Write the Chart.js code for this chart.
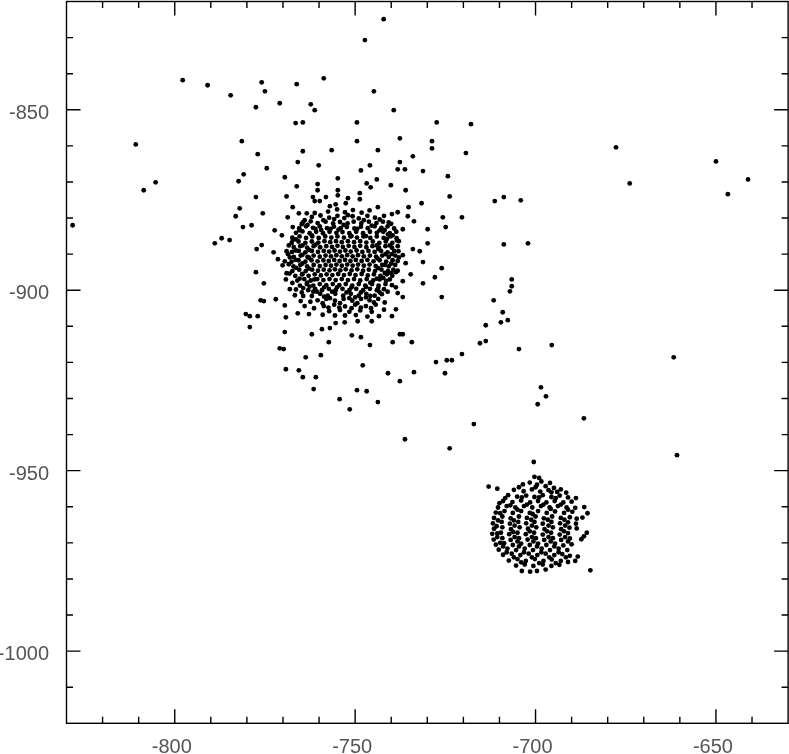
<!DOCTYPE html>
<html>
<head>
<meta charset="utf-8">
<style>html,body{margin:0;padding:0;background:#fff}canvas{display:block}</style>
<script src="https://cdn.jsdelivr.net/npm/chart.js@4"></script>
</head>
<body>
<canvas id="c" width="789" height="754"></canvas>
<script>
const scatteredPoints = [
[-742.1,-824.9],[-747.3,-830.7],[-797.8,-841.8],[-790.9,-843.2],[-784.5,-846],[-775.9,-842.4],[-775,-844.9],[-766.2,-842.9],[-758.7,-841.3],[-744.8,-844.9],
[-770.9,-848.2],[-777.5,-849.3],[-762.3,-848.5],[-761.2,-850.1],[-739.3,-850.1],[-766.5,-853.7],[-764.5,-853.5],[-749.5,-853.5],[-727.4,-853.5],[-717.9,-854],
[-810.8,-859.6],[-781.4,-858.7],[-749.5,-858.7],[-737.6,-857.9],[-728.7,-858.7],[-728.7,-860.7],[-777,-862.3],[-764.5,-861.5],[-756.5,-861.2],[-743.7,-861.2],
[-734,-862.9],[-719.3,-862],[-774.5,-866.2],[-765.9,-864.5],[-760.1,-865.4],[-745.9,-865.4],[-737.6,-864.5],[-780.9,-867.9],[-782.3,-869.8],[-769.5,-868.7],
[-748.4,-866.8],[-738.2,-866.5],[-736.2,-866.5],[-731.2,-867],[-724.3,-868.4],[-754.8,-869],[-744,-869.3],[-766.2,-871.2],[-760.4,-870.6],[-746.8,-870.4],
[-745.7,-871.5],[-740.1,-870.9],[-736,-872.3],[-777.5,-874.2],[-769,-874],[-760.4,-872.3],[-754.8,-872.3],[-748.7,-873.1],[-748.7,-874.8],[-723.8,-874],
[-761.7,-874.2],[-761.2,-875.3],[-759.8,-875.3],[-758.1,-874.2],[-754.8,-873.7],[-752,-874.5],[-731.6,-875.9],[-782,-877.3],[-767.3,-877],[-775.6,-878.7],
[-783.1,-879.5],[-768.7,-879.8],[-735.2,-877],[-743.7,-877],[-752.6,-875.9],[-755.4,-876.2],[-757,-876.7],[-765.6,-878.7],[-763.4,-878.7],[-781.1,-882.5],
[-778.7,-882],[-772.3,-883.4],[-770.3,-884.8],[-767.3,-882.5],[-764.8,-881.7],[-764,-880.6],[-787,-885.6],[-784.8,-886.1],[-788.9,-887],[-775.9,-887.5],
[-777.3,-888.6],[-772.6,-889.5],[-769,-889.2],[-771.4,-891.4],[-769.5,-892],[-770.1,-893.1],[-768.1,-890.9],[-767.3,-886.1],[-777.5,-895],[-769,-895.3],
[-769.2,-897],[-775.3,-898.1],[-768.1,-899.7],[-766.7,-901.4],[-764.8,-900.6],[-776.2,-902.8],[-775.3,-903],[-772,-902.5],[-769.5,-904.2],[-765.1,-903],
[-764,-904.4],[-780.3,-906.6],[-779.2,-907.2],[-777,-907.2],[-769.2,-907.5],[-765.9,-906.4],[-762.8,-906.6],[-779.2,-910.2],[-769.5,-911.6],[-762,-912.2],
[-759.2,-910.8],[-757,-910.5],[-755.4,-909.1],[-752.9,-908.9],[-749.3,-908.6],[-745.4,-908.6],[-750.9,-912.5],[-748.4,-913],[-745.9,-915.2],[-757.3,-914.4],
[-770.9,-916.1],[-769.8,-916.3],[-763.7,-918.6],[-759.5,-918],[-769.2,-921.9],[-765.6,-922.2],[-764.5,-924.1],[-760.9,-924.1],[-761.5,-927.4],[-747.9,-920.8],
[-740.9,-923],[-737.6,-925.2],[-733.7,-922.7],[-739.6,-914.4],[-737.6,-912.2],[-736.8,-912.2],[-734.3,-914.4],[-749.5,-927.7],[-746.8,-928],[-754.3,-930.2],
[-751.5,-933],[-743.7,-931],[-727.6,-919.9],[-724.6,-919.4],[-723.2,-919.4],[-725.1,-923],[-720.4,-917.7],[-715.4,-914.7],[-713.8,-914.1],[-713.8,-909.7],
[-709.6,-908.9],[-717.1,-937.1],[-736.2,-941.3],[-723.8,-943.8],[-739.8,-878.9],[-738.2,-878.4],[-735.4,-879.5],[-725.7,-879.8],[-720.4,-879.8],[-711.3,-875.3],
[-708.8,-874.2],[-704.1,-875.1],[-740.7,-881.2],[-733.7,-880.9],[-736.8,-883.1],[-729.9,-883.1],[-724.9,-882.5],[-740.9,-884.5],[-729.9,-887],[-708.8,-887.3],
[-702.1,-887],[-737.9,-886.4],[-738.2,-887.8],[-734,-888.6],[-732.1,-889.2],[-736.8,-890.3],[-737.9,-890.9],[-736,-892.5],[-731.2,-892.2],[-726,-893.9],
[-738.7,-895],[-734.6,-895.6],[-727.9,-896.4],[-736.8,-897.5],[-731.2,-898.1],[-706.6,-897],[-706.6,-898.9],[-707.1,-900.3],[-738.7,-899.2],[-738.2,-900.8],
[-736.8,-901.9],[-726,-901.9],[-711.6,-902.8],[-738.7,-905.3],[-739.8,-907.2],[-709.1,-906.1],[-707.7,-908.3],[-677.7,-860.4],[-673.9,-870.4],[-650,-864.3],
[-646.7,-873.4],[-641.1,-869.3],[-695.5,-915.2],[-704.6,-916.3],[-698.5,-926.9],[-697.1,-929.4],[-699.4,-931.6],[-686.6,-935.5],[-660.8,-945.7],[-661.7,-918.6],
[-828.3,-882],[-808.6,-872.3],[-805.3,-870.1]
];
const upperClusterPoints = [
[-757.5,-878.2],[-755,-877.6],[-752.8,-878.4],[-750.6,-877.8],[-748.2,-878.5],[-746,-877.9],
[-762,-879.7],[-759.6,-879.3],[-757.2,-879.9],[-754.9,-879.4],[-753,-880],[-750.7,-879.5],[-749,-880.1],[-746.6,-879.4],[-744.5,-879.9],[-742,-879.4],
[-764.5,-881.2],[-762.3,-880.9],[-760.4,-881.4],[-758.2,-881],[-756.1,-881.5],[-754.2,-881.1],[-752.1,-881.5],[-750.4,-881],[-748.3,-881.5],[-746.2,-881],[-744.1,-881.4],[-742.3,-881],[-740,-881.6],
[-765.5,-882.8],[-763.6,-882.3],[-761.7,-882.7],[-759.8,-882.3],[-757.8,-882.8],[-755.9,-882.4],[-754,-882.8],[-752.3,-882.5],[-750.2,-882.9],[-748.4,-882.4],[-746.5,-882.8],[-744.6,-882.3],[-742.7,-882.7],[-741,-882.3],[-739.2,-882.9],
[-766.4,-884.1],[-764.6,-883.7],[-762.6,-884.2],[-760.8,-883.8],[-758.9,-884.2],[-757.1,-883.8],[-755.2,-884.1],[-753.5,-883.9],[-751.6,-884.2],[-749.7,-883.8],[-747.8,-884.2],[-745.9,-883.8],[-744,-884.1],[-742.2,-883.8],[-740.4,-884.2],[-738.6,-883.8],
[-767.4,-885.4],[-765.4,-885.1],[-763.6,-885.5],[-761.9,-885.1],[-760.1,-885.5],[-758.3,-885.1],[-756.6,-885.4],[-754.9,-885.1],[-753.1,-885.4],[-751.3,-885.1],[-749.5,-885.4],[-747.7,-885.1],[-745.8,-885.5],[-744,-885.1],[-742.1,-885.5],[-740.2,-885.1],[-738.5,-885.6],
[-767.6,-886.9],[-765.7,-886.5],[-763.8,-886.9],[-762,-886.5],[-760.2,-886.8],[-758.5,-886.4],[-756.9,-886.7],[-755.3,-886.4],[-753.7,-886.7],[-752,-886.4],[-750.3,-886.7],[-748.6,-886.4],[-746.9,-886.8],[-745.1,-886.5],[-743.3,-886.9],[-741.5,-886.5],[-739.7,-886.9],
[-767,-888.1],[-765.2,-887.8],[-763.3,-888.2],[-761.5,-887.8],[-759.7,-888.1],[-758,-887.8],[-756.4,-888],[-754.9,-887.7],[-753.4,-888],[-751.8,-887.7],[-750.2,-888],[-748.6,-887.7],[-746.9,-888.1],[-745.2,-887.8],[-743.4,-888.2],[-741.6,-887.8],[-739.8,-888.2],
[-767.5,-889.4],[-765.6,-889.1],[-763.8,-889.5],[-762,-889.1],[-760.3,-889.4],[-758.7,-889.1],[-757.2,-889.3],[-755.7,-889],[-754.2,-889.3],[-752.7,-889],[-751.2,-889.3],[-749.6,-889],[-748,-889.4],[-746.3,-889.1],[-744.6,-889.4],[-742.8,-889.1],[-741,-889.5],[-739.2,-889.1],
[-767,-890.8],[-765.1,-890.4],[-763.2,-890.8],[-761.5,-890.4],[-759.8,-890.7],[-758.2,-890.4],[-756.7,-890.6],[-755.2,-890.3],[-753.7,-890.6],[-752.2,-890.3],[-750.7,-890.6],[-749.2,-890.3],[-747.6,-890.6],[-745.9,-890.4],[-744.2,-890.7],[-742.5,-890.4],[-740.7,-890.8],[-738.9,-890.4],
[-767.6,-892.1],[-765.7,-891.7],[-763.8,-892.1],[-762.1,-891.7],[-760.4,-892],[-758.8,-891.7],[-757.3,-891.9],[-755.8,-891.6],[-754.3,-891.9],[-752.8,-891.6],[-751.3,-891.9],[-749.8,-891.6],[-748.2,-891.9],[-746.6,-891.6],[-744.9,-892],[-743.2,-891.7],[-741.4,-892.1],[-739.6,-891.7],
[-767.1,-893.4],[-765.2,-893],[-763.3,-893.4],[-761.5,-893],[-759.8,-893.3],[-758.2,-893],[-756.7,-893.2],[-755.2,-892.9],[-753.7,-893.2],[-752.2,-892.9],[-750.7,-893.2],[-749.2,-892.9],[-747.6,-893.2],[-746,-892.9],[-744.3,-893.3],[-742.5,-893],[-740.7,-893.4],[-738.9,-893],
[-767.4,-894.7],[-765.5,-894.3],[-763.7,-894.7],[-761.9,-894.3],[-760.3,-894.6],[-758.7,-894.3],[-757.1,-894.5],[-755.6,-894.2],[-754.1,-894.5],[-752.6,-894.2],[-751,-894.5],[-749.4,-894.2],[-747.8,-894.6],[-746.2,-894.3],[-744.5,-894.7],[-742.7,-894.3],[-740.9,-894.7],[-739.4,-894.3],
[-766.6,-896],[-764.7,-895.6],[-762.9,-896],[-761.2,-895.6],[-759.5,-895.9],[-757.9,-895.6],[-756.3,-895.8],[-754.7,-895.5],[-753.1,-895.8],[-751.5,-895.5],[-749.9,-895.8],[-748.2,-895.5],[-746.5,-895.9],[-744.8,-895.6],[-743,-896],[-741.2,-895.6],[-739.7,-896],
[-766,-897.3],[-764.1,-896.9],[-762.3,-897.3],[-760.5,-896.9],[-758.8,-897.2],[-757.1,-896.9],[-755.4,-897.2],[-753.7,-896.9],[-752,-897.2],[-750.3,-896.9],[-748.6,-897.3],[-746.8,-896.9],[-745,-897.3],[-743.2,-897],[-741.4,-897.4],
[-765.3,-898.7],[-763.4,-898.3],[-761.6,-898.7],[-759.8,-898.3],[-758,-898.6],[-756.2,-898.3],[-754.4,-898.6],[-752.6,-898.3],[-750.8,-898.7],[-749,-898.3],[-747.2,-898.7],[-745.3,-898.3],[-743.5,-898.7],[-741.6,-898.3],
[-763,-900],[-761.1,-899.6],[-759.2,-900],[-757.3,-899.6],[-755.4,-900],[-753.5,-899.6],[-751.6,-900],[-749.7,-899.6],[-747.8,-900],[-745.9,-899.6],[-744,-900],[-742,-899.7],
[-762,-901.6],[-759.7,-901],[-757.6,-901.5],[-755.5,-901],[-753.3,-901.5],[-751.2,-901],[-749,-901.5],[-746.9,-901],[-744.6,-901.5],[-742.6,-901.1],
[-760.4,-902.8],[-758,-902.4],[-755.6,-902.9],[-753.2,-902.4],[-750.8,-902.9],[-748.4,-902.4],[-746,-902.8],[-743.6,-902.4],
[-758.7,-904.4],[-755.8,-904],[-752.8,-904.5],[-750,-904],[-747,-904.4],[-744.3,-904],
[-757.2,-905.8],[-754.2,-905.5],[-751.6,-906],[-748.6,-905.6],[-745.4,-906]
];
const upperRingPoints = [
[-761.2,-878.6],[-758.8,-880.6],[-755.8,-880.3],[-752,-879.2],[-747.6,-880.6],[-743.2,-880.4],[-763.2,-881.9],[-761,-883],[-756.8,-883],[-753.2,-881.9],[-749.4,-883],[-745.4,-882.1],[-741.8,-883.3],
[-765.4,-883.4],[-762,-884.8],[-759.4,-883.3],[-754.6,-883.2],[-751,-885],[-747,-885],[-743.2,-883.4],[-739.6,-884.8],[-768.4,-887.6],[-766.4,-885.9],[-764.6,-887.6],[-761,-887.4],[-744,-887.6],[-741.2,-885.8],[-740.4,-887.6],[-738.4,-886.2],
[-768.6,-890],[-766.4,-889],[-764.6,-890.2],[-762.8,-888.8],[-743.6,-888.6],[-741.6,-890],[-739.8,-890],[-738,-889.2],[-768.4,-892.8],[-766.4,-891.6],[-764.6,-892.6],[-762.8,-891],[-743.8,-891.2],[-741.8,-893],[-740,-892.6],[-738.2,-891.9],
[-768.2,-895.4],[-766.4,-893.8],[-764.6,-895.5],[-762.8,-894],[-743.6,-893.9],[-741.8,-895.2],[-740,-895.3],[-738.2,-894.6],[-767.4,-898],[-765.4,-896.8],[-763.3,-897.9],[-761.3,-897],[-745.8,-897.9],[-744,-896.8],[-742.2,-896.6],[-740.4,-897],
[-766.4,-899.8],[-764.4,-899.4],[-762.6,-899],[-760.6,-900.4],[-758.6,-899.2],[-755,-899.2],[-751,-899.2],[-747,-899.1],[-743.6,-899.4],[-741,-900.4],[-739.8,-898.6],
[-764.4,-901.6],[-761.6,-900.4],[-758.6,-901.8],[-756.4,-900.4],[-752.4,-900.6],[-750,-902],[-748.4,-900.6],[-745.8,-901.6],[-743.2,-900.6],[-762.4,-903.2],[-759,-903.6],[-757,-902.2],[-754.2,-903.6],[-751.6,-902.2],[-749.4,-903.6],[-747,-902],[-744.8,-903.4],[-741.8,-903.4],
[-761.4,-905],[-757.4,-904.8],[-754.4,-904.8],[-751,-905],[-748.4,-904.8],[-745.6,-905],[-742,-905.4],[-759,-906.8],[-755.6,-907],[-752.8,-907],[-749.8,-906.9],[-746.6,-907.3],[-743.4,-907.2]
];
const lowerClusterPoints = [
[-700.5,-947.6],[-713,-954.4],[-710.6,-955],[-700.3,-951.7],[-699,-952],[-698.4,-953],[-696,-953.4],[-693,-955.2],
[-703.5,-953.8],[-701.6,-953.3],[-699.6,-953.9],[-697.2,-954.3],[-694.9,-954.8],[-706,-955.3],[-703.3,-955.7],[-701,-955.2],[-698.7,-955.8],[-696.4,-955.4],[-694,-955.9],[-691.5,-956.1],
[-707.6,-956.8],[-705.1,-957.2],[-702.6,-956.9],[-700.3,-957.3],[-698,-956.8],[-695.6,-957.3],[-693.3,-956.9],[-691,-957.4],[-688.8,-957.6],
[-709,-958.4],[-706.4,-958.7],[-704,-958.3],[-701.5,-958.8],[-699.3,-958.4],[-697,-958.8],[-694.7,-958.4],[-692.3,-958.8],[-690,-958.6],
[-710.4,-960.2],[-708,-959.8],[-705.6,-960.2],[-703.2,-959.8],[-700.9,-960.2],[-698.5,-959.8],[-696.1,-960.2],[-693.8,-959.8],[-691.4,-960.2],[-689,-960.3],[-686.5,-960.1],
[-711,-961.6],[-708.6,-961.2],[-706.3,-961.7],[-704,-961.2],[-701.6,-961.7],[-699.3,-961.2],[-696.9,-961.7],[-694.6,-961.3],[-692.1,-961.7],[-689.8,-961.4],[-685.6,-961.8],
[-711.5,-963.1],[-709.2,-962.7],[-706.9,-963.2],[-704.6,-962.7],[-702.4,-963.1],[-700,-962.7],[-697.7,-963.2],[-695.4,-962.7],[-693,-963.1],[-690.5,-962.9],[-688.6,-963.3],[-687,-963],
[-711.8,-964.6],[-709.4,-964.2],[-707.1,-964.7],[-704.8,-964.2],[-702.6,-964.6],[-700.3,-964.2],[-698,-964.7],[-695.6,-964.2],[-693.2,-964.6],[-691,-964.3],[-688.8,-964.7],
[-711.5,-966.1],[-709.2,-965.7],[-706.8,-966.2],[-704.4,-965.7],[-702.1,-966.1],[-699.8,-965.7],[-697.5,-966.2],[-695.2,-965.7],[-692.9,-966.2],[-690.6,-965.8],[-688.6,-966],
[-712,-967.5],[-709.6,-967.2],[-707.3,-967.6],[-705,-967.2],[-702.7,-967.6],[-700.4,-967.2],[-698,-967.7],[-695.7,-967.2],[-693.3,-967.7],[-691,-967.3],[-685.8,-967.2],[-686.6,-968.2],[-687.3,-969],
[-711.6,-969.1],[-709.2,-968.7],[-706.9,-969.2],[-704.6,-968.7],[-702.2,-969.1],[-699.9,-968.7],[-697.6,-969.2],[-695.2,-968.7],[-692.9,-969.2],[-690.5,-968.8],
[-711,-970.5],[-708.7,-970.1],[-706.3,-970.6],[-704,-970.2],[-701.6,-970.6],[-699.3,-970.2],[-697,-970.6],[-694.6,-970.2],[-692.3,-970.7],[-690,-970.4],
[-710.2,-971.9],[-707.8,-971.6],[-705.4,-972],[-703,-971.6],[-700.7,-972],[-698.3,-971.6],[-696,-972],[-693.6,-971.6],[-691.2,-972],
[-709,-973.3],[-706.6,-973],[-704.2,-973.4],[-701.9,-973],[-699.5,-973.4],[-697.2,-973],[-694.8,-973.4],[-692.6,-973.1],[-690.5,-973.6],[-688.3,-973.8],[-689,-975],
[-707.4,-974.9],[-705,-974.5],[-702.7,-975],[-700.2,-974.5],[-697.8,-975],[-695.5,-974.6],[-693,-975],[-691,-975.3],
[-705.4,-976.3],[-703,-976],[-700.6,-976.4],[-698,-976],[-695.6,-976.4],[-693.4,-976.1],
[-703.8,-977.8],[-701.5,-978],[-699.6,-977.8],[-697.2,-977.4],[-684.8,-977.6],
[-704.6,-954.6],[-700,-954.6],[-695.6,-956],[-708.4,-957.6],[-703.8,-957.4],[-699,-957.4],[-694.4,-957.6],[-710,-959],[-707,-959.6],[-702.4,-959.4],[-697.8,-959.4],[-693,-959.4],
[-709.8,-961.8],[-705,-960.8],[-700.8,-962],[-695.8,-960.6],[-691,-960.8],[-710.4,-963.8],[-706,-963.8],[-701.2,-963.6],[-696.6,-963.6],[-692,-963.6],[-710.8,-965.4],[-705.8,-965.2],[-701,-965.2],[-696.4,-965.2],[-691.8,-965.2],
[-710.6,-967.4],[-706.2,-967],[-701.6,-966.8],[-696.8,-966.8],[-692.1,-966.8],[-710.6,-968.4],[-705.8,-968.4],[-701,-968.4],[-696.4,-968.4],[-691.8,-968.4],[-709.8,-970],[-705,-969.6],[-700.6,-969.6],[-695.8,-969.6],[-691,-969.6],
[-709,-971],[-704.6,-971],[-699.6,-971],[-694.8,-971],[-708,-972.6],[-703.2,-972.6],[-698.4,-972.6],[-693.6,-972.6],[-706,-974],[-701,-974],[-696.2,-974],[-691.6,-974],[-704,-975.4],[-699,-975.6],[-694.4,-975.6]
];
const xMin = -830, xMax = -630, yMin = -1020, yMax = -820, tickStep = 10, labelStep = 50;
const xLabelValues = [-800, -750, -700, -650];
const yLabelValues = [-850, -900, -950, -1000];

const toXY = p => ({x: p[0], y: p[1]});
const ink = '#000';

const framePlugin = {
  id: 'frame',
  afterLayout(chart) {
    const sx = chart.scales.x, sy = chart.scales.y;
    if (!sx._wrapped) {
      const dx = sx.drawLabels.bind(sx);
      sx.drawLabels = a => { chart.ctx.save(); chart.ctx.translate(-3, 0); dx(a); chart.ctx.restore(); };
      sx._wrapped = true;
      const dy = sy.drawLabels.bind(sy);
      sy.drawLabels = a => { chart.ctx.save(); chart.ctx.translate(0, 3.5); dy(a); chart.ctx.restore(); };
    }
  },
  afterDraw(chart) {
    const {ctx, chartArea: a, scales: {x, y}} = chart;
    ctx.save();
    ctx.strokeStyle = ink;
    ctx.lineWidth = 1.4;
    ctx.strokeRect(a.left, a.top, a.right - a.left, a.bottom - a.top);
    ctx.beginPath();
    x.ticks.forEach(t => {
      if (t.value <= xMin || t.value >= xMax) return;
      const p = x.getPixelForValue(t.value), l = t.value % labelStep === 0 ? 14 : 6.5;
      ctx.moveTo(p, a.bottom); ctx.lineTo(p, a.bottom - l);
      ctx.moveTo(p, a.top); ctx.lineTo(p, a.top + l);
    });
    y.ticks.forEach(t => {
      if (t.value <= yMin || t.value >= yMax) return;
      const p = y.getPixelForValue(t.value), l = t.value % labelStep === 0 ? 14 : 6.5;
      ctx.moveTo(a.left, p); ctx.lineTo(a.left + l, p);
      ctx.moveTo(a.right, p); ctx.lineTo(a.right - l, p);
    });
    ctx.stroke();
    ctx.restore();
  }
};

const dataset = (label, pts) => ({
  label, data: pts.map(toXY), backgroundColor: ink, borderColor: ink, borderWidth: 0,
  pointRadius: 2.4, pointStyle: 'circle'
});
const tickFont = {family: '"Liberation Sans", Arial, sans-serif', size: 20, weight: 'normal'};
const zeroPadding = s => { s.paddingLeft = s.paddingRight = s.paddingTop = s.paddingBottom = 0; };

new Chart(document.getElementById('c'), {
  type: 'scatter',
  data: {datasets: [
    dataset('Scattered', scatteredPoints),
    dataset('Upper cluster', upperClusterPoints),
    dataset('Upper cluster ring', upperRingPoints),
    dataset('Lower cluster', lowerClusterPoints)
  ]},
  plugins: [framePlugin],
  options: {
    responsive: false, animation: false, devicePixelRatio: 1,
    layout: {autoPadding: false, padding: {top: 1.5, right: 0.9, left: 0, bottom: 0}},
    plugins: {legend: {display: false}, tooltip: {enabled: false}, title: {display: false}},
    scales: {
      x: {
        type: 'linear', min: xMin, max: xMax,
        grid: {display: false, drawTicks: false}, border: {display: false},
        afterFit(s) { s.height = 30.7; zeroPadding(s); },
        ticks: {
          stepSize: tickStep, autoSkip: false, maxRotation: 0, padding: 12, color: '#555', font: tickFont,
          callback: v => xLabelValues.includes(v) ? String(v) : ''
        }
      },
      y: {
        type: 'linear', min: yMin, max: yMax,
        grid: {display: false, drawTicks: false}, border: {display: false},
        afterFit(s) { s.width = 66.5; zeroPadding(s); },
        ticks: {
          stepSize: tickStep, autoSkip: false, padding: 17.5, color: '#555', font: tickFont,
          callback: v => yLabelValues.includes(v) ? String(v) : ''
        }
      }
    }
  }
});
</script>
</body>
</html>
